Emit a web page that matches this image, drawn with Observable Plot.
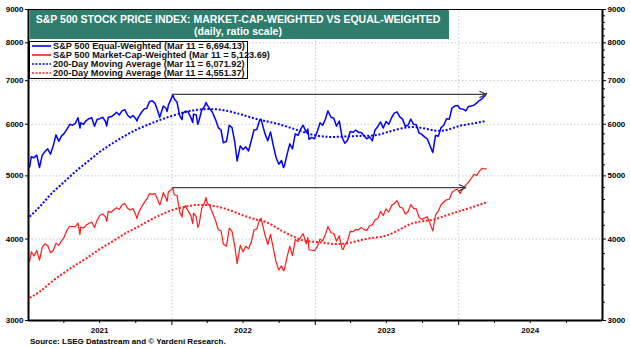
<!DOCTYPE html>
<html><head><meta charset="utf-8">
<script src="https://cdn.jsdelivr.net/npm/d3@7"></script>
<script src="https://cdn.jsdelivr.net/npm/@observablehq/plot@0.6"></script>
<style>
html,body{margin:0;padding:0;background:#fff;}
#chart{width:630px;height:348px;}
svg{font-family:"Liberation Sans",Arial,sans-serif;}
</style></head><body><div id="chart"></div>
<script>
// ---- data ----
const weeklyDates = [
"2021-01-04","2021-01-08","2021-01-15","2021-01-22","2021-01-29","2021-02-05","2021-02-12","2021-02-19","2021-02-26",
"2021-03-05","2021-03-12","2021-03-19","2021-03-26","2021-04-01","2021-04-09","2021-04-16","2021-04-23","2021-04-30",
"2021-05-07","2021-05-12","2021-05-14","2021-05-21","2021-05-28","2021-06-04","2021-06-11","2021-06-18","2021-06-25",
"2021-07-02","2021-07-09","2021-07-16","2021-07-19","2021-07-23","2021-07-30","2021-08-06","2021-08-13","2021-08-20",
"2021-08-27","2021-09-03","2021-09-10","2021-09-17","2021-09-24","2021-10-01","2021-10-04","2021-10-08","2021-10-15",
"2021-10-22","2021-10-29","2021-11-05","2021-11-12","2021-11-19","2021-11-26","2021-12-01","2021-12-03","2021-12-10",
"2021-12-17","2021-12-20","2021-12-23","2021-12-31",
"2022-01-03","2022-01-07","2022-01-14","2022-01-21","2022-01-27","2022-01-28","2022-02-04","2022-02-11","2022-02-18",
"2022-02-23","2022-02-25","2022-03-04","2022-03-08","2022-03-11","2022-03-18","2022-03-25","2022-03-29","2022-04-01",
"2022-04-08","2022-04-14","2022-04-22","2022-04-29","2022-05-06","2022-05-12","2022-05-20","2022-05-27","2022-06-03",
"2022-06-10","2022-06-16","2022-06-24","2022-07-01","2022-07-08","2022-07-15","2022-07-22","2022-07-29","2022-08-05",
"2022-08-12","2022-08-16","2022-08-19","2022-08-26","2022-09-02","2022-09-09","2022-09-16","2022-09-23","2022-09-30",
"2022-10-07","2022-10-12","2022-10-14","2022-10-21","2022-10-28","2022-11-04","2022-11-11","2022-11-18","2022-11-25",
"2022-12-01","2022-12-09","2022-12-13","2022-12-16","2022-12-23","2022-12-30",
"2023-01-06","2023-01-13","2023-01-20","2023-01-27","2023-02-02","2023-02-10","2023-02-17","2023-02-24","2023-03-03",
"2023-03-10","2023-03-13","2023-03-17","2023-03-24","2023-03-31","2023-04-07","2023-04-14","2023-04-21","2023-04-28",
"2023-05-05","2023-05-12","2023-05-19","2023-05-26","2023-06-02","2023-06-09","2023-06-16","2023-06-23","2023-06-30",
"2023-07-07","2023-07-14","2023-07-21","2023-07-28","2023-08-04","2023-08-11","2023-08-18","2023-08-25","2023-09-01",
"2023-09-08","2023-09-15","2023-09-22","2023-09-29","2023-10-06","2023-10-13","2023-10-20","2023-10-27","2023-11-03",
"2023-11-10","2023-11-17","2023-11-24","2023-12-01","2023-12-08","2023-12-15","2023-12-22","2023-12-29",
"2024-01-05","2024-01-12","2024-01-19","2024-01-26","2024-02-02","2024-02-09","2024-02-16","2024-02-23","2024-03-01",
"2024-03-08","2024-03-11"
];
const capWeighted = [
3700,3825,3768,3841,3714,3887,3934,3907,3811,
3842,3943,3913,3975,4020,4129,4185,4180,4181,
4233,4063,4174,4156,4204,4230,4247,4166,4281,
4352,4370,4327,4258,4412,4395,4437,4468,4442,
4509,4535,4459,4433,4455,4357,4300,4391,4471,
4545,4605,4697,4683,4698,4595,4513,4538,4712,
4620,4568,4725,4766,
4796,4677,4663,4398,4326,4432,4500,4419,4349,
4225,4385,4329,4170,4204,4463,4543,4632,4546,
4488,4393,4272,4132,4123,3930,3901,4158,4109,
3901,3667,3912,3825,3899,3863,3962,4130,4145,
4280,4305,4228,4058,3924,4067,3873,3693,3586,
3640,3577,3583,3752,3901,3771,3993,3965,4026,
4077,3934,4019,3852,3845,3840,
3895,3999,3973,4071,4180,4090,4079,3970,4046,
3862,3855,3917,3971,4109,4105,4138,4133,4169,
4136,4124,4192,4205,4282,4299,4410,4348,4450,
4399,4505,4536,4582,4478,4464,4370,4406,4516,
4457,4450,4320,4288,4308,4327,4224,4117,4358,
4415,4514,4559,4595,4604,4719,4755,4770,
4697,4784,4840,4891,4959,5027,5006,5089,5137,
5124,5124
];
const equalWeighted = [
5160,5350,5330,5380,5150,5380,5450,5500,5400,
5560,5780,5650,5760,5800,5900,6000,5980,6020,
6140,5920,6030,6000,6080,6120,6140,5960,6110,
6120,6150,6060,5960,6150,6160,6200,6260,6200,
6290,6320,6200,6140,6190,6120,6070,6160,6250,
6330,6350,6500,6520,6460,6290,6150,6200,6400,
6350,6280,6420,6580,
6667,6560,6490,6180,6100,6230,6280,6270,6150,
6040,6220,6200,6000,6080,6310,6390,6480,6420,
6330,6260,6100,5930,5880,5620,5650,5980,5930,
5640,5270,5560,5490,5540,5460,5660,5880,5890,
6080,6110,6010,5800,5660,5840,5570,5340,5210,
5280,5150,5170,5390,5600,5500,5800,5770,5900,
5980,5830,5900,5690,5730,5700,
5850,6030,5980,6120,6290,6150,6130,5960,6070,
5740,5680,5610,5670,5850,5830,5880,5830,5830,
5760,5700,5740,5660,5880,5950,6050,5920,6060,
6000,6140,6240,6270,6160,6110,5960,5980,6110,
6000,5990,5820,5790,5740,5700,5560,5430,5770,
5750,5930,5980,6120,6110,6360,6400,6410,
6340,6330,6290,6390,6400,6420,6470,6530,6570,
6640,6694
];
const maDates = [
"2021-01-04","2021-02-01","2021-03-01","2021-04-01","2021-05-01","2021-06-01","2021-07-01","2021-08-01","2021-09-01",
"2021-10-01","2021-11-01","2021-12-01","2022-01-01","2022-02-01","2022-03-01","2022-04-01","2022-05-01","2022-06-01",
"2022-07-01","2022-08-01","2022-09-01","2022-10-01","2022-11-01","2022-12-01","2023-01-01","2023-02-01","2023-03-01",
"2023-04-01","2023-05-01","2023-06-01","2023-07-01","2023-08-01","2023-09-01","2023-10-01","2023-11-01","2023-12-01",
"2024-01-01","2024-02-01","2024-03-11"
];
const equalMA = [
4330,4500,4700,4890,5080,5260,5440,5600,5750,
5880,5990,6090,6180,6260,6310,6330,6320,6270,
6200,6120,6060,6000,5920,5840,5770,5740,5740,
5750,5760,5770,5830,5900,5940,5920,5870,5880,
5960,6010,6072
];
const capMA = [
3250,3330,3440,3550,3650,3750,3860,3960,4070,
4160,4260,4350,4430,4480,4510,4510,4480,4420,
4350,4290,4240,4140,4050,3980,3960,3940,3930,
3950,3990,4020,4050,4130,4220,4260,4290,4350,
4410,4470,4551
];
const arrowStart = ["2022-01-03","2022-01-03"];
const arrowEnd = ["2024-03-11","2024-01-19"];
const arrowLevel = [6667, 4796];

const yTicks = [3000,4000,5000,6000,7000,8000,9000];
const yMinor = [3200,3400,3600,3800,4200,4400,4600,4800,5200,5400,5600,5800,6200,6400,6600,6800,7200,7400,7600,7800,8200,8400,8600,8800];
const yearLabels = ["2021","2022","2023","2024"];
const legendLabels = [
 "S&P 500 Equal-Weighted (Mar 11 = 6,694.13)",
 "S&P 500 Market-Cap-Weighted (Mar 11 = 5,123.69)",
 "200-Day Moving Average (Mar 11 = 6,071.92)",
 "200-Day Moving Average (Mar 11 = 4,551.37)"
];
const titleText = "S&P 500 STOCK PRICE INDEX: MARKET-CAP-WEIGHTED VS EQUAL-WEIGHTED";
const subtitleText = "(daily, ratio scale)";
const sourceText = "Source: LSEG Datastream and \u00A9 Yardeni Research.";

// ---- build tables ----
const BLUE = "#0000ff", RED = "#ff1a1a", TEAL = "#2f7d6d";
const P = d3.utcParse("%Y-%m-%d");
const weekly = weeklyDates.map((d,i)=>({date:P(d), eq:equalWeighted[i], cap:capWeighted[i]}));
const ma = maDates.map((d,i)=>({date:P(d), eq:equalMA[i], cap:capMA[i]}));
const arrows = arrowStart.map((d,i)=>({x1:P(d), x2:P(arrowEnd[i]), y:arrowLevel[i]}));
const yearBounds = ["2022","2023","2024"].map(y=>P(y+"-01-01"));
const yearMids = yearLabels.map(y=>P(y+"-07-01"));
const quarterTicks = [];
for (let y=2021;y<=2024;y++) for (const m of ["04","07","10"]) quarterTicks.push(P(y+"-"+m+"-01"));
const x0 = P("2021-01-01"), x1 = P("2025-01-01");

const chart = Plot.plot({
  width: 630, height: 348,
  marginLeft: 28, marginRight: 28, marginTop: 9, marginBottom: 28,
  style: {fontFamily: '"Liberation Sans", Arial, sans-serif', fontSize: "8px", fontWeight: "bold", color: "#000", background: "#fff"},
  x: {type: "utc", domain: [x0, x1], label: null},
  y: {type: "log", domain: [3000, 9000], label: null},
  marks: [
    Plot.gridY(yTicks.slice(1, -1), {stroke: "#c8c8c8", strokeOpacity: 1, strokeDasharray: "1.5,2"}),
    Plot.gridX(yearBounds, {stroke: "#c8c8c8", strokeOpacity: 1, strokeDasharray: "1.5,2"}),
    Plot.axisY(yTicks, {anchor: "left", tickSize: 3, tickPadding: 2, tickFormat: d => String(d), label: null}),
    Plot.axisY(yTicks, {anchor: "right", tickSize: 3, tickPadding: 2, tickFormat: d => String(d), label: null}),
    Plot.axisY(yMinor, {anchor: "right", tickSize: 2, tickFormat: () => "", label: null}),
    Plot.axisX(yearMids, {anchor: "bottom", tickSize: 0, tickPadding: 7, tickFormat: d3.utcFormat("%Y"), label: null}),
    Plot.axisX(quarterTicks, {anchor: "bottom", tickSize: 3, tickFormat: () => "", label: null}),
    Plot.axisX(yearBounds, {anchor: "bottom", tickSize: 5, tickFormat: () => "", label: null}),
    Plot.line(ma, {x: "date", y: "eq", stroke: BLUE, strokeWidth: 2, strokeDasharray: "2,1.8", strokeLinecap: "butt", curve: "natural"}),
    Plot.line(ma, {x: "date", y: "cap", stroke: RED, strokeWidth: 2, strokeDasharray: "2,1.8", strokeLinecap: "butt", curve: "natural"}),
    Plot.line(weekly, {x: "date", y: "eq", stroke: BLUE, strokeWidth: 1.5}),
    Plot.line(weekly, {x: "date", y: "cap", stroke: RED, strokeWidth: 1.2}),
    Plot.arrow(arrows, {x1: "x1", x2: "x2", y1: "y", y2: "y", stroke: "#444", strokeWidth: 1.3, headLength: 8, headAngle: 50}),
    Plot.frame({stroke: "#000", strokeWidth: 1}),
    Plot.ruleX([x0, x1], {stroke: "#000", strokeWidth: 2}),
    Plot.ruleY([3000], {stroke: "#000", strokeWidth: 2})
  ]
});

const svg = d3.select(chart);
// title box
const tg = svg.append("g").attr("text-anchor", "middle");
tg.append("rect").attr("x", 30).attr("y", 10).attr("width", 419).attr("height", 29).attr("fill", TEAL);
tg.append("text").attr("x", 238).attr("y", 23).attr("text-anchor", "middle").attr("fill", "#fff")
  .attr("font-size", 10.5).attr("font-weight", "bold").text(titleText);
tg.append("text").attr("x", 238).attr("y", 35).attr("text-anchor", "middle").attr("fill", "#fff")
  .attr("font-size", 10.5).attr("font-weight", "bold").text(subtitleText);
// legend
const lg = svg.append("g").attr("text-anchor", "start");
lg.append("rect").attr("x", 29.5).attr("y", 41.5).attr("width", 218).attr("height", 37)
  .attr("fill", "#fff").attr("stroke", "#000").attr("stroke-width", 1);
const legColors = [BLUE, RED, BLUE, RED];
const legDash = [null, null, "2,1.5", "2,1.5"];
legendLabels.forEach((t, i) => {
  const yy = 46 + i * 9;
  const ln = lg.append("line").attr("x1", 32).attr("x2", 51).attr("y1", yy).attr("y2", yy)
    .attr("stroke", legColors[i]).attr("stroke-width", 1.6);
  if (legDash[i]) ln.attr("stroke-dasharray", legDash[i]);
  lg.append("text").attr("x", 53).attr("y", yy + 3.2).attr("text-anchor", "start").attr("font-size", 9.2)
    .attr("font-weight", "bold").attr("fill", "#111").text(t);
});
// source
svg.append("text").attr("x", 30).attr("y", 344).attr("text-anchor", "start").attr("font-size", 8)
  .attr("font-weight", "bold").text(sourceText);

document.getElementById("chart").appendChild(chart);
</script></body></html>
